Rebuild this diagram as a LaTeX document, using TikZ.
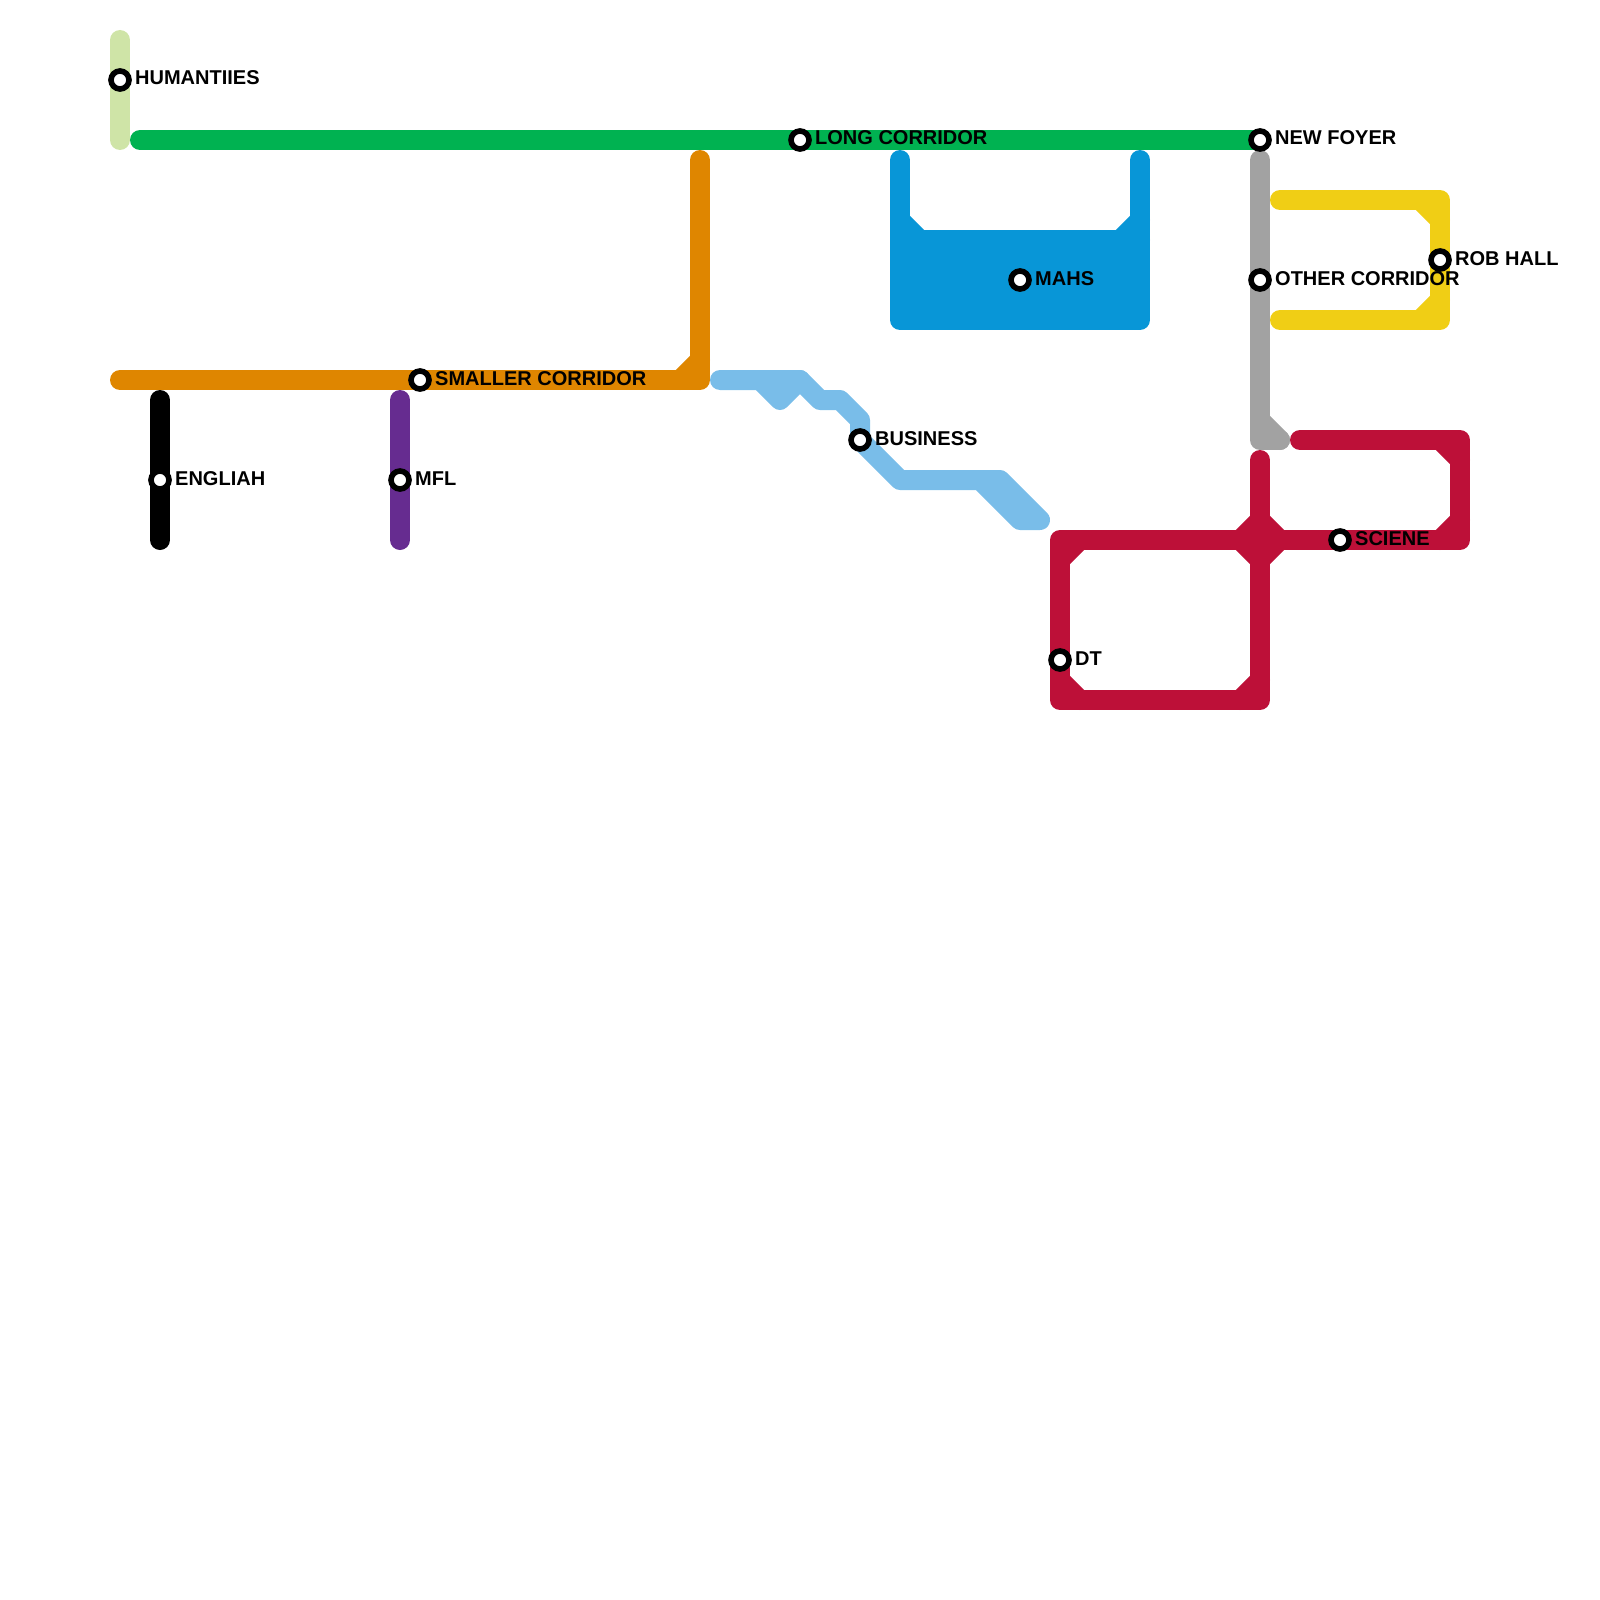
\documentclass[tikz,border=0pt]{standalone}
\usepackage{fontspec}
\setmainfont{Liberation Sans}
\definecolor{cGreen}{HTML}{00B251}
\definecolor{cLime}{HTML}{CFE4A7}
\definecolor{cOrange}{HTML}{DF8600}
\definecolor{cBlue}{HTML}{0896D7}
\definecolor{cSky}{HTML}{79BDE9}
\definecolor{cRed}{HTML}{BD1038}
\definecolor{cYellow}{HTML}{F0CE15}
\definecolor{cGray}{HTML}{A2A2A2}
\definecolor{cPurple}{HTML}{662C90}
\tikzset{
  metro/.style={line width=20pt,line cap=round,line join=round},
  stationdot/.style={circle,draw=black,line width=5.6pt,fill=white,minimum size=18pt,inner sep=0pt},
  stationlabel/.style={anchor=base west,inner sep=0pt,text=black,font=\bfseries\fontsize{20}{24}\selectfont}
}
\begin{document}
\begin{tikzpicture}[x=1pt,y=-1pt]
\useasboundingbox (0,0) rectangle (1600,1600);
% station positions
\coordinate (pHum) at (120,80);
\coordinate (pLong) at (800,140);
\coordinate (pFoyer) at (1260,140);
\coordinate (pSmall) at (420,380);
\coordinate (pEng) at (160,480);
\coordinate (pMfl) at (400,480);
\coordinate (pMahs) at (1020,280);
\coordinate (pBus) at (860,440);
\coordinate (pOther) at (1260,280);
\coordinate (pRob) at (1440,260);
\coordinate (pSci) at (1340,540);
\coordinate (pDt) at (1060,660);
% lines
\draw[metro,cLime] (120,40) -- (pHum) -- (120,140);
\draw[metro,cGreen] (140,140) -- (pLong) -- (pFoyer);
\draw[metro,cOrange] (120,380) -- (pSmall) -- (700,380) -- (700,160);
\draw[metro,cOrange] (680,380) -- (700,360);
\draw[metro,black] (160,400) -- (pEng) -- (160,540);
\draw[metro,cPurple] (400,400) -- (pMfl) -- (400,540);
\fill[cBlue] (900,240) rectangle (1140,320);
\draw[metro,cBlue] (900,160) -- (900,320) -- (1140,320) -- (1140,160);
\draw[metro,cBlue] (900,240) -- (1140,240);
\draw[metro,cBlue] (900,220) -- (920,240);
\draw[metro,cBlue] (1140,220) -- (1120,240);
\draw[metro,cSky] (720,380) -- (800,380) -- (820,400) -- (840,400) -- (860,420) -- (pBus) -- (900,480) -- (1000,480) -- (1040,520) -- (1020,520) -- (980,480);
\draw[metro,cSky] (760,380) -- (780,400) -- (800,380);
\draw[metro,cGray] (1260,160) -- (pOther) -- (1260,440) -- (1280,440);
\draw[metro,cGray] (1260,420) -- (1280,440);
\draw[metro,cYellow] (1280,200) -- (1440,200) -- (pRob) -- (1440,320) -- (1280,320);
\draw[metro,cYellow] (1420,200) -- (1440,220);
\draw[metro,cYellow] (1420,320) -- (1440,300);
\draw[metro,cRed] (1300,440) -- (1460,440) -- (1460,540) -- (pSci) -- (1060,540) -- (pDt) -- (1060,700) -- (1260,700) -- (1260,460);
\draw[metro,cRed] (1440,440) -- (1460,460);
\draw[metro,cRed] (1460,520) -- (1440,540);
\draw[metro,cRed] (1060,560) -- (1080,540);
\draw[metro,cRed] (1060,680) -- (1080,700);
\draw[metro,cRed] (1240,700) -- (1260,680);
\draw[metro,cRed] (1240,540) -- (1260,520) -- (1280,540) -- (1260,560) -- cycle;
% stations
\foreach \n in {Hum,Long,Foyer,Small,Eng,Mfl,Mahs,Bus,Other,Rob,Sci,Dt}
  \node[stationdot] (s\n) at (p\n) {};
% labels
\node[stationlabel] (lHum) at ([shift={(15,5)}]pHum) {HUMANTIIES};
\node[stationlabel] (lLong) at ([shift={(15,5)}]pLong) {LONG CORRIDOR};
\node[stationlabel] (lFoyer) at ([shift={(15,5)}]pFoyer) {NEW FOYER};
\node[stationlabel] (lSmall) at ([shift={(15,5)}]pSmall) {SMALLER CORRIDOR};
\node[stationlabel] (lEng) at ([shift={(15,5)}]pEng) {ENGLIAH};
\node[stationlabel] (lMfl) at ([shift={(15,5)}]pMfl) {MFL};
\node[stationlabel] (lMahs) at ([shift={(15,5)}]pMahs) {MAHS};
\node[stationlabel] (lBus) at ([shift={(15,5)}]pBus) {BUSINESS};
\node[stationlabel] (lOther) at ([shift={(15,5)}]pOther) {OTHER CORRIDOR};
\node[stationlabel] (lRob) at ([shift={(15,5)}]pRob) {ROB HALL};
\node[stationlabel] (lSci) at ([shift={(15,5)}]pSci) {SCIENE};
\node[stationlabel] (lDt) at ([shift={(15,5)}]pDt) {DT};
\end{tikzpicture}
\end{document}
